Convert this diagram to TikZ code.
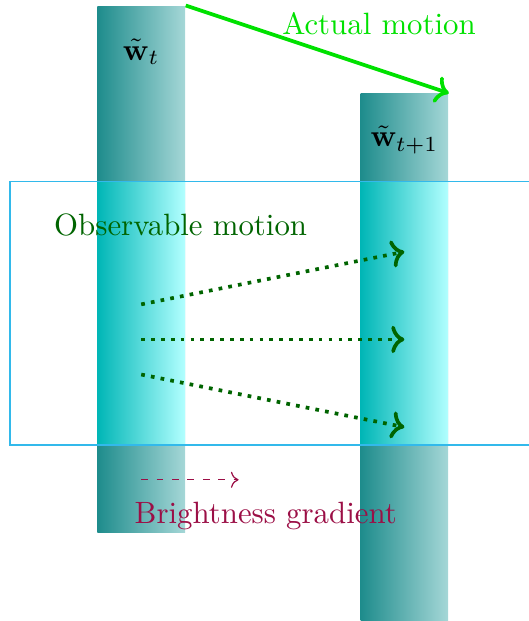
\documentclass[tikz,border=0pt]{standalone}
\definecolor{barteal}  {RGB}{30,140,140}
\definecolor{barpale}  {RGB}{165,215,215}
\definecolor{patchcyan}{RGB}{0,182,182}
\definecolor{patchpale}{RGB}{178,255,255}
\definecolor{winblue}  {RGB}{50,185,235}
\definecolor{actgreen} {RGB}{0,225,0}
\definecolor{obsgreen} {RGB}{0,100,0}
\definecolor{gradred}  {RGB}{155,15,70}
\usepackage{amsmath}
\usetikzlibrary{arrows.meta,positioning,calc}
\tikzset{
  bar/.style={rectangle,inner sep=0pt,minimum width=1cm,minimum height=6cm,
              left color=barteal,right color=barpale},
  patch/.style={rectangle,inner sep=0pt,minimum width=1cm,minimum height=3cm,
                left color=patchcyan,right color=patchpale},
  actarr/.style={actgreen,very thick,->},
  obsarr/.style={obsgreen,very thick,dotted,->},
  gradarr/.style={gradred,dash pattern=on 2.2pt off 2.8pt,->},
}
\begin{document}
\begin{tikzpicture}
    \useasboundingbox (-1.11,-1.01) rectangle (4.91,6.07);
    % frames t and t+1
    \node[bar] (barT)  at (0.5,3) {};
    \node[bar] (barTT) at (3.5,2) {};
    \node[patch] (patchT)  at (0.5,2.5) {};
    \node[patch] (patchTT) at (3.5,2.5) {};
    \draw[winblue,semithick] (-1,1) rectangle (5.2,4);
    \node (labT)  at ([yshift=-0.53cm]barT.north)  {$\tilde{\mathbf{w}}_t$};
    \node (labTT) at ([yshift=-0.53cm]barTT.north) {$\tilde{\mathbf{w}}_{t+1}$};
    \draw[actarr] (barT.north east) --
      node[pos=0.36,above right,inner sep=0pt,actgreen]{Actual motion}
      (barTT.north east);
    \node[obsgreen] (obslab) at (0.95,3.5) {Observable motion};
    \foreach \i/\ys/\ye in {1/2.6/3.2, 2/2.2/2.2, 3/1.8/1.2}{
      \coordinate (src\i) at (0.5,\ys);
      \coordinate (dst\i) at (3.5,\ye);
      \draw[obsarr] (src\i) -- (dst\i);
    }
    \coordinate (gradS) at (0.5,0.6);
    \coordinate (gradE) at (1.61,0.6);
    \draw[gradarr] (gradS) -- (gradE);
    \node[gradred] (gradlab) at (1.92,0.19) {Brightness gradient};
\end{tikzpicture}
\end{document}
